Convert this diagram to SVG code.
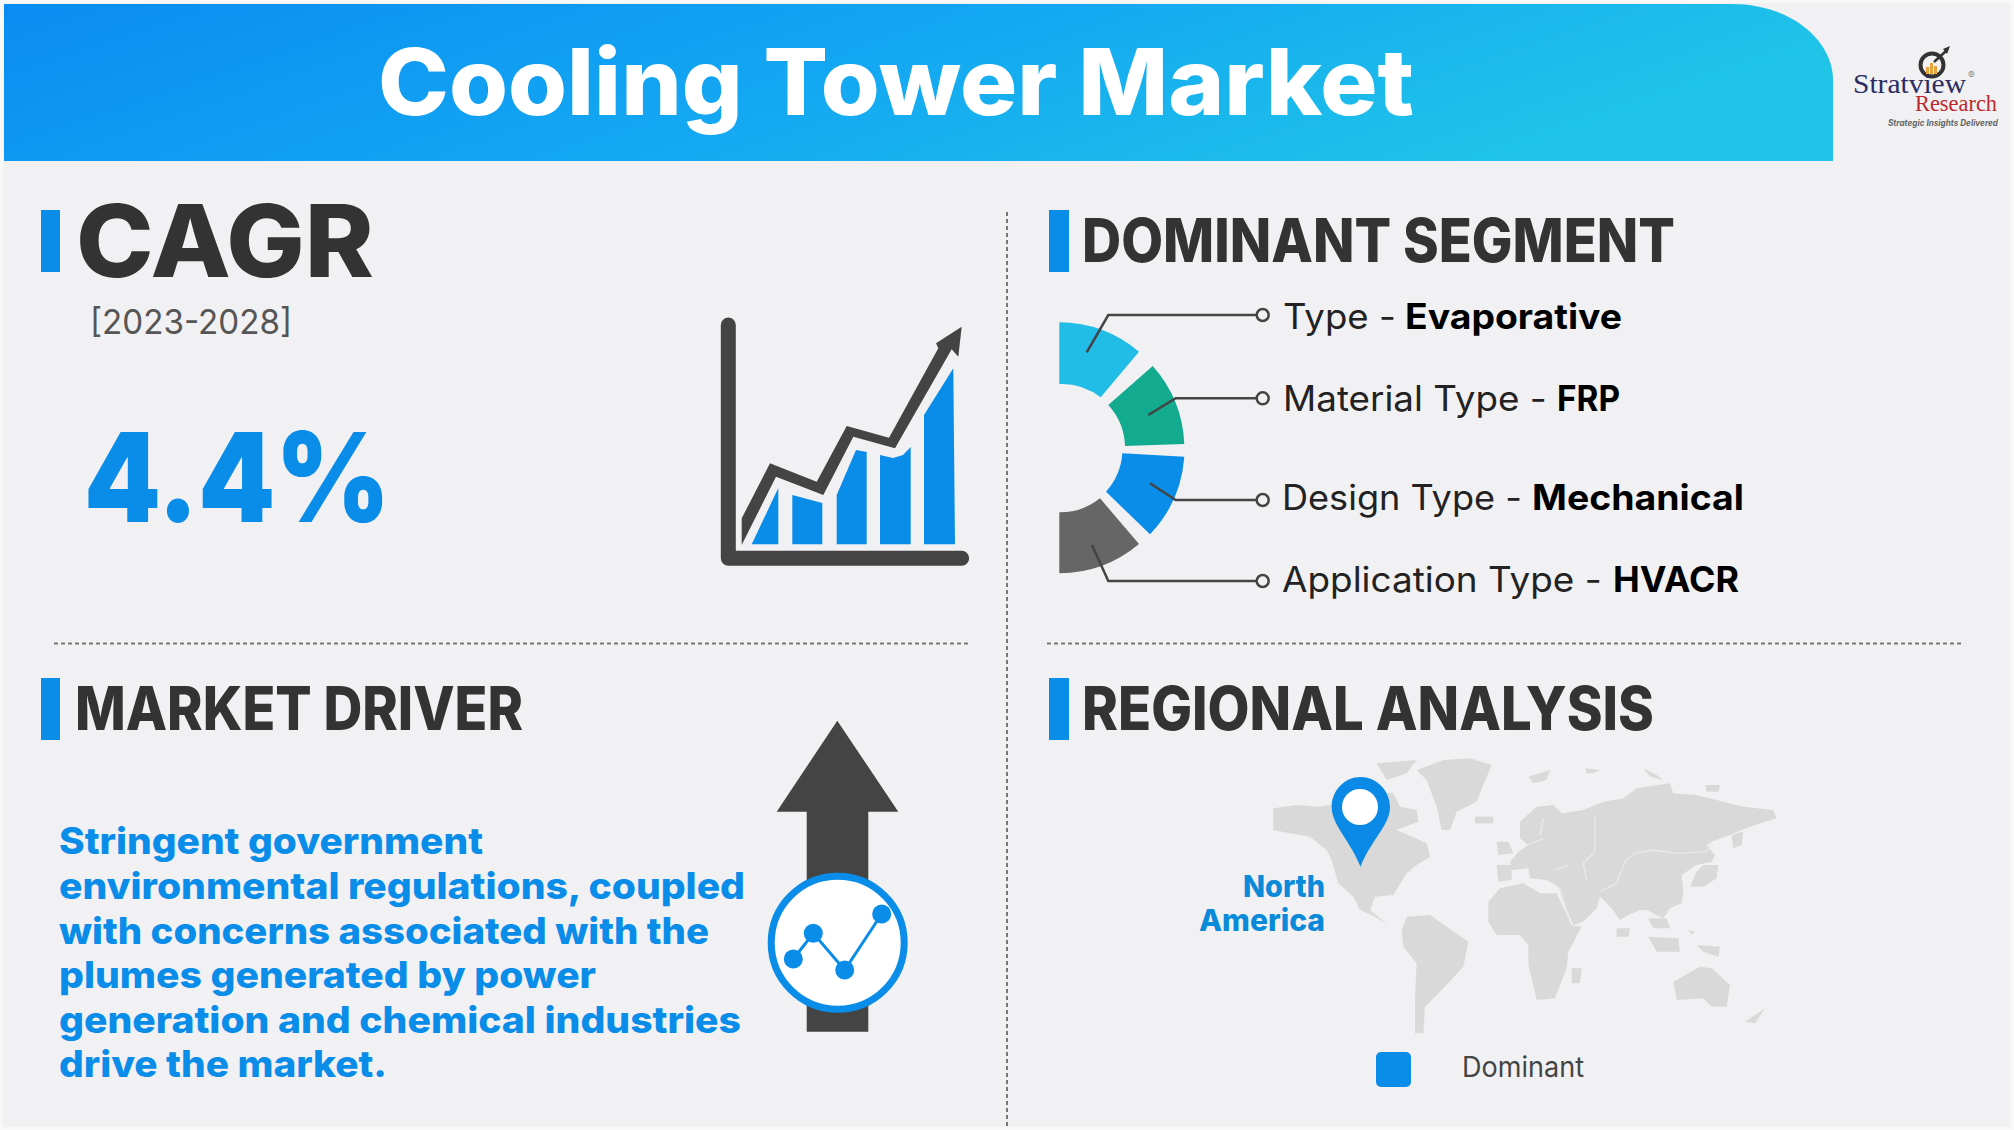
<svg xmlns="http://www.w3.org/2000/svg" width="2014" height="1130" viewBox="0 0 2014 1130">
<defs>
<linearGradient id="hdr" x1="0" y1="0" x2="1" y2="0.25"><stop offset="0" stop-color="#0a8cf2"/><stop offset="0.55" stop-color="#14a8f2"/><stop offset="1" stop-color="#1fc4e8"/></linearGradient>
</defs>
<style>
text{font-family:Inter,"Noto Sans","Liberation Sans",sans-serif}
.b{font-weight:700}
.x{font-weight:800}
.h{font-weight:800;fill:#333333;font-size:60px}
.bar{fill:#0a8de8}
.blue{fill:#0a8de8}
.lab{font-size:35px;fill:#222222}
.lab .b{fill:#000000}
.p{font-size:37px;font-weight:800;fill:#0a8de8}
.dark{fill:#444444}
.conn{fill:none;stroke:#444444;stroke-width:2.5}
.dot{fill:#f1f1f3;stroke:#444444;stroke-width:2.5}
.div{stroke:#777777;stroke-width:2;stroke-dasharray:4 3;fill:none}
.land{fill:#d9d9d9}
.seam{fill:none;stroke:#e9e9ea;stroke-width:4}
</style>
<rect width="2014" height="1130" fill="#f8f8f8"/>
<rect x="3" y="3" width="2007" height="1124" fill="#f1f1f3"/>
<g id="header">
<path d="M4,4H1732C1790,4 1833,40 1833,80V161H4Z" fill="url(#hdr)"/>
<text x="378" y="115" font-size="92" class="x" fill="#ffffff" textLength="1036" lengthAdjust="spacingAndGlyphs">Cooling Tower Market</text>
</g>
<g id="logo">
<circle cx="1932" cy="65" r="11.500" fill="#f1f1f3" stroke="#333333" stroke-width="4"/>
<path d="M1926,74v-7h3v7zM1930,74v-11h3v11zM1934,74v-8h3v8z" fill="#e8a33a"/>
<path d="M1934,62L1946,51" stroke="#333333" stroke-width="2.500"/>
<path d="M1950,46L1943,49L1947,54Z" fill="#333333"/>
<text x="1853" y="93" font-size="28" fill="#2b2c63" textLength="113" lengthAdjust="spacingAndGlyphs" style="font-family:'Liberation Serif',serif">Stratview</text>
<text x="1968" y="79" font-size="10" fill="#888888">®</text>
<text x="1915" y="111" font-size="24" fill="#c0272d" textLength="82" lengthAdjust="spacingAndGlyphs" style="font-family:'Liberation Serif',serif">Research</text>
<text x="1888" y="126" font-size="9" font-style="italic" class="b" fill="#666666" textLength="110" lengthAdjust="spacingAndGlyphs">Strategic Insights Delivered</text>
</g>
<g id="connectors">
<path class="div" d="M1007,212V1128"/>
<path class="div" d="M54,643.500H970"/>
<path class="div" d="M1047,643.500H1963"/>
</g>
<g id="cagr">
<rect class="bar" x="41" y="210" width="19" height="62"/>
<text x="76" y="277" font-size="101" class="x" fill="#333333" textLength="298" lengthAdjust="spacingAndGlyphs">CAGR</text>
<text x="90" y="334" font-size="34" fill="#555555" textLength="202" lengthAdjust="spacingAndGlyphs">[2023-2028]</text>
<text x="84" y="522" font-size="124" font-weight="900" class="blue" textLength="306" lengthAdjust="spacingAndGlyphs">4.4%</text>
</g>
<g id="chart">
<path d="M728.300,325V558.300H961.700" fill="none" stroke="#444444" stroke-width="15" stroke-linecap="round" stroke-linejoin="round"/>
<path class="dark" d="M741.700,545V518.300L770,463.300L816.700,481.700L846.700,426L889,437.700L938.300,348.300L936,343.300L961.700,326.700L958.300,356.700L951.700,349.300L895,448.300L853.300,436.700L823.300,495L776,476.700Z"/>
<path class="bar" d="M751.700,544.300L778.300,488V544.300Z"/>
<path class="bar" d="M792.300,495L822.300,503V544.300H792.300Z"/>
<path class="bar" d="M836.700,495L856,450L866.700,452V544.300H836.700Z"/>
<path class="bar" d="M880,455L893,458L903,455L910.700,447V544.300H880Z"/>
<path class="bar" d="M924,415L953.300,368.300L955,544.300H924Z"/>
</g>
<g id="dominant-segment">
<rect class="bar" x="1049" y="210" width="20" height="62"/>
<text x="1082" y="262" class="h" textLength="593" lengthAdjust="spacingAndGlyphs">DOMINANT SEGMENT</text>
<path fill="#22bde6" d="M1059.300,322.300A125,125 0 0 1 1139,351.700L1100.700,397.300A64,64 0 0 0 1059.300,384Z"/>
<path fill="#12ab8f" d="M1152.700,366A125,125 0 0 1 1184.300,444L1125,446A64,64 0 0 0 1108.300,405Z"/>
<path fill="#0a8de8" d="M1184.300,456.700A125,125 0 0 1 1150,534.300L1106,491.700A64,64 0 0 0 1122.300,453.300Z"/>
<path fill="#666666" d="M1139,544A125,125 0 0 1 1059.300,573.300V512.300A64,64 0 0 0 1100,498.300Z"/>
</g>
<g id="segment-leaders">
<path class="conn" d="M1086.700,352.300L1108.300,315H1256.700"/><circle class="dot" cx="1262.700" cy="315" r="6"/>
<path class="conn" d="M1148.300,415L1175.700,398.300H1256.700"/><circle class="dot" cx="1262.700" cy="398.300" r="6"/>
<path class="conn" d="M1150,483.300L1175.700,500H1256.700"/><circle class="dot" cx="1262.700" cy="500" r="6"/>
<path class="conn" d="M1092,545L1108.300,581H1256.700"/><circle class="dot" cx="1262.700" cy="581" r="6"/>
</g>
<g id="segment-labels">
<text class="lab" y="329"><tspan x="1283" textLength="123" lengthAdjust="spacingAndGlyphs">Type - </tspan><tspan x="1405" class="b" textLength="217" lengthAdjust="spacingAndGlyphs">Evaporative</tspan></text>
<text class="lab" y="411"><tspan x="1283" textLength="274" lengthAdjust="spacingAndGlyphs">Material Type - </tspan><tspan x="1557" class="b" textLength="63" lengthAdjust="spacingAndGlyphs">FRP</tspan></text>
<text class="lab" y="510"><tspan x="1282" textLength="250" lengthAdjust="spacingAndGlyphs">Design Type - </tspan><tspan x="1532" class="b" textLength="212" lengthAdjust="spacingAndGlyphs">Mechanical</tspan></text>
<text class="lab" y="592"><tspan x="1282" textLength="330" lengthAdjust="spacingAndGlyphs">Application Type - </tspan><tspan x="1613" class="b" textLength="126" lengthAdjust="spacingAndGlyphs">HVACR</tspan></text>
</g>
<g id="market-driver">
<rect class="bar" x="41" y="678" width="19" height="62"/>
<text x="75" y="730" class="h" textLength="448" lengthAdjust="spacingAndGlyphs">MARKET DRIVER</text>
<text class="p" x="59" y="854" textLength="424" lengthAdjust="spacingAndGlyphs">Stringent government</text>
<text class="p" x="59" y="899" textLength="686" lengthAdjust="spacingAndGlyphs">environmental regulations, coupled</text>
<text class="p" x="59" y="943.500" textLength="650" lengthAdjust="spacingAndGlyphs">with concerns associated with the</text>
<text class="p" x="59" y="988" textLength="537" lengthAdjust="spacingAndGlyphs">plumes generated by power</text>
<text class="p" x="59" y="1032.500" textLength="682" lengthAdjust="spacingAndGlyphs">generation and chemical industries</text>
<text class="p" x="59" y="1077" textLength="328" lengthAdjust="spacingAndGlyphs">drive the market.</text>
</g>
<g id="driver-icon">
<path class="dark" d="M837.300,720.700L898.300,811.700H868.300V1031.700H806.700V811.700H776.700Z"/>
<circle cx="837.700" cy="942.700" r="66.500" fill="#ffffff" stroke="#0a8de8" stroke-width="7"/>
<path d="M793.300,959L813.300,933.300L844.700,970L881.700,914" fill="none" stroke="#0a8de8" stroke-width="3"/>
<g class="bar"><circle cx="793.300" cy="959" r="9.500"/><circle cx="813.300" cy="933.300" r="9.500"/><circle cx="844.700" cy="970" r="9.500"/><circle cx="881.700" cy="914" r="9.500"/></g>
</g>
<g id="regional-analysis">
<rect class="bar" x="1049" y="678" width="20" height="62"/>
<text x="1082" y="730" class="h" textLength="572" lengthAdjust="spacingAndGlyphs">REGIONAL ANALYSIS</text>
</g>
<g id="world-map">
<g class="land" transform="translate(1260,750) scale(.33333)">
<path d="M40,175L110,165L175,170L210,165L300,130L400,130L420,170L470,180L475,215L410,240L500,280L510,320L470,345L440,370L415,410L400,435L345,440L330,480L385,525L345,500L300,480L280,440L235,400L215,330L200,300L150,260L90,250L40,240Z"/>
<path d="M350,40L470,30L440,70L380,90Z"/>
<path d="M440,500L510,495L560,530L625,575L610,650L545,720L495,770L490,850L465,850L465,740L470,640L430,590L425,540Z"/>
</g>
<g class="land" transform="translate(1440,755) scale(.33333)">
<path d="M-70,45L10,15L90,10L155,30L130,90L110,140L50,170L30,225L5,225L-10,155L-40,75Z"/>
<path d="M105,185L160,185L160,205L105,205Z"/>
<path d="M265,65L330,45L320,75L280,85Z"/>
<path d="M435,40L480,45L460,55L440,55Z"/>
<path d="M610,40L650,60L670,75L630,65Z"/>
<path d="M795,90L840,90L835,110L800,110Z"/>
<path d="M240,200L290,155L340,150L365,175L430,165L490,140L550,130L590,100L690,85L700,115L770,120L850,140L910,155L1000,165L1010,190L960,205L905,225L870,240L815,260L800,270L825,300L815,320L770,330L725,360L730,410L725,445L690,460L670,490L620,465L600,465L565,480L540,495L515,460L480,425L470,460L430,500L400,510L370,440L355,395L320,375L270,370L265,340L215,345L210,320L235,290L265,270L240,250Z"/>
<path d="M170,330L215,330L215,375L175,380Z"/>
<path d="M170,260L205,260L220,295L175,300Z"/>
<path d="M145,440L180,400L250,385L300,415L350,415L395,510L425,515L385,590L380,640L345,730L290,735L265,630L265,570L240,540L170,540L145,500Z"/>
<path d="M395,640L425,640L420,685L395,685Z"/>
<path d="M700,680L780,635L815,640L870,690L860,755L815,755L790,730L710,735Z"/>
<path d="M625,545L715,550L720,590L650,590Z"/>
<path d="M745,525L765,530L755,540Z"/>
<path d="M770,570L840,575L835,605L790,590Z"/>
<path d="M915,800L975,760L945,805Z"/>
<path d="M530,520L570,520L565,545L530,545Z"/>
<path d="M625,490L680,490L690,520L640,520Z"/>
<path d="M790,330L835,330L830,370L790,395L750,395L770,350Z"/>
<path d="M875,240L910,230L905,270L880,280Z"/>
<path class="seam" d="M360,400L390,500M480,410L530,385L555,320L585,295L640,285L710,295L800,290L815,265M465,180V290L430,325L440,380M300,240L310,190M265,270L310,250M345,345L385,330"/>
</g>
</g>
<g id="north-america">
<path fill="#0a8ae6" d="M1360.500,866.700C1350,840 1331.700,825 1331.700,807C1331.700,790 1345,777 1360.500,777C1376,777 1390,790 1390,807C1390,825 1371,840 1360.500,866.700Z"/>
<circle cx="1360" cy="807" r="18" fill="#ffffff"/>
<text x="1325" y="897" font-size="30" class="x" fill="#0a8ad8" text-anchor="end" textLength="82" lengthAdjust="spacingAndGlyphs">North</text>
<text x="1325" y="931" font-size="30" class="x" fill="#0a8ad8" text-anchor="end" textLength="126" lengthAdjust="spacingAndGlyphs">America</text>
</g>
<g id="legend">
<rect class="bar" x="1376" y="1052" width="35" height="35" rx="5"/>
<text x="1462" y="1077" font-size="28" fill="#444444" textLength="122" lengthAdjust="spacingAndGlyphs">Dominant</text>
</g>
</svg>
